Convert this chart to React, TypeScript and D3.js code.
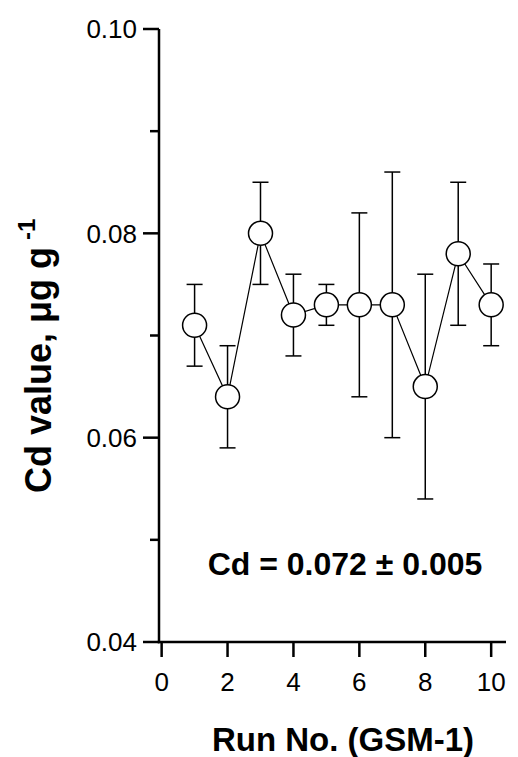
import React from "react";
import * as d3 from "d3";

const runs = [1, 2, 3, 4, 5, 6, 7, 8, 9, 10];
const cdValues = [0.071, 0.064, 0.080, 0.072, 0.073, 0.073, 0.073, 0.065, 0.078, 0.073];
const errUpper = [0.075, 0.069, 0.085, 0.076, 0.075, 0.082, 0.086, 0.076, 0.085, 0.077];
const errLower = [0.067, 0.059, 0.075, 0.068, 0.071, 0.064, 0.060, 0.054, 0.071, 0.069];
const xTicks = [0, 2, 4, 6, 8, 10];
const yMajorTicks = [0.04, 0.06, 0.08, 0.10];
const yMinorTicks = [0.05, 0.07, 0.09];
const yLabels = ["0.04", "0.06", "0.08", "0.10"];

const W = 518;
const H = 757;

export default function App() {
  const x = d3.scaleLinear().domain([-0.08, 10.45]).range([159, 506]);
  const y = d3.scaleLinear().domain([0.04, 0.1]).range([642, 29]);
  const line = d3
    .line<number>()
    .x((_, i) => x(runs[i]))
    .y((d) => y(d));
  const font = "'Liberation Sans', Arial, sans-serif";
  const x0 = x.range()[0];
  const y0 = y.range()[0];
  return (
    <svg
      width={W}
      height={H}
      style={{ position: "absolute", left: 0, top: 0, background: "#fff" }}
      fontFamily={font}
    >
      <line x1={x0} x2={x0} y1={y(0.1)} y2={y0 + 1.25} stroke="#000" strokeWidth={2.5} />
      <line x1={x0 - 1.25} x2={x.range()[1]} y1={y0} y2={y0} stroke="#000" strokeWidth={2.5} />
      {yMajorTicks.map((t, i) => (
        <g key={"ym" + t}>
          <line x1={x0 - 16} x2={x0} y1={y(t)} y2={y(t)} stroke="#000" strokeWidth={2.5} />
          <text x={x0 - 22} y={y(t)} dy="0.36em" textAnchor="end" fontSize={26}>
            {yLabels[i]}
          </text>
        </g>
      ))}
      {yMinorTicks.map((t) => (
        <line key={"yn" + t} x1={x0 - 9} x2={x0} y1={y(t)} y2={y(t)} stroke="#000" strokeWidth={2.5} />
      ))}
      {xTicks.map((t) => (
        <g key={"x" + t}>
          <line x1={x(t)} x2={x(t)} y1={y0} y2={y0 + 15} stroke="#000" strokeWidth={2.5} />
          <text x={x(t)} y={691} textAnchor="middle" fontSize={26}>
            {t}
          </text>
        </g>
      ))}
      {runs.map((r, i) => (
        <g key={"e" + r} stroke="#000" strokeWidth={1.5}>
          <line x1={x(r)} x2={x(r)} y1={y(errUpper[i])} y2={y(errLower[i])} />
          <line x1={x(r) - 8} x2={x(r) + 8} y1={y(errUpper[i])} y2={y(errUpper[i])} />
          <line x1={x(r) - 8} x2={x(r) + 8} y1={y(errLower[i])} y2={y(errLower[i])} />
        </g>
      ))}
      <path d={line(cdValues) || ""} fill="none" stroke="#000" strokeWidth={1.2} />
      {runs.map((r, i) => (
        <circle key={"c" + r} cx={x(r)} cy={y(cdValues[i])} r={12} fill="#fff" stroke="#000" strokeWidth={1.5} />
      ))}
      <text x={345} y={575} textAnchor="middle" fontSize={32} fontWeight="bold">
        Cd = 0.072 ± 0.005
      </text>
      <text x={343} y={751} textAnchor="middle" fontSize={33} fontWeight="bold">
        Run No. (GSM-1)
      </text>
      <text transform="translate(51,493) rotate(-90)" textAnchor="start" fontSize={36} fontWeight="bold">
        Cd value, μg g
        <tspan dx={7} dy={-16} fontSize={24}>
          -1
        </tspan>
      </text>
    </svg>
  );
}
